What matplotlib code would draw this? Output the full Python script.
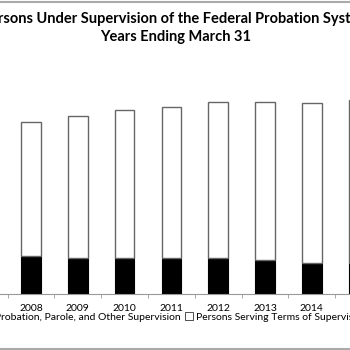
import matplotlib
matplotlib.use("Agg")
import matplotlib.pyplot as plt
from matplotlib.patches import Patch
from matplotlib.lines import Line2D
import numpy as np

# data
years = ["2008", "2009", "2010", "2011", "2012", "2013", "2014", "2015"]
probation = [26700, 25500, 25500, 25500, 25100, 23700, 22000, 21800]
supervised_release = [94300, 99700, 103700, 106000, 109900, 111300, 112300, 114400]

title = "Persons Under Supervision of the Federal Probation System\nYears Ending March 31"
lab_prob = "Persons Under Probation, Parole, and Other Supervision"
lab_tsr = "Persons Serving Terms of Supervised Release"

plt.rcParams["font.family"] = ["Lato", "DejaVu Sans"]

W = 350.0
step = 46.8  # px per year
fig = plt.figure(figsize=(3.5, 3.5), dpi=100)
# axes wider than the visible crop: baseline at y=294px
ax = fig.add_axes([0, (350 - 294) / 350, 1, (294 - 95) / 350])
x = np.arange(len(years))
ax.bar(x, probation, width=0.42, color="black", edgecolor="black", lw=0.8)
ax.bar(x, supervised_release, width=0.42, bottom=probation, color="white",
       edgecolor="#666666", lw=1.0)

for s in ["top", "right", "left"]:
    ax.spines[s].set_visible(False)
ax.spines["bottom"].set_color("#999999")
ax.set_yticks([])
ax.set_xticks(x)
ax.set_xticklabels(years, fontsize=7.5)
ax.tick_params(axis="x", length=0, pad=7)
ax.set_xticks(np.arange(-0.5, len(years), 1), minor=True)
ax.tick_params(axis="x", which="minor", length=3, color="#999999", direction="out")
# limits last, set_xticks would widen them
ax.set_xlim(-31 / step, (W - 31) / step)
ax.set_ylim(0, (294 - 95) * 702)

fig.text(176 / W, 1 - 28 / 350, title, ha="center", va="center",
         fontsize=10.5, fontweight="bold", linespacing=1.35)

handles = [Patch(facecolor="black", edgecolor="black", lw=0.6),
           Patch(facecolor="white", edgecolor="#333333", lw=0.6)]
fig.legend(handles, [lab_prob, lab_tsr], loc="center", ncol=2,
           bbox_to_anchor=(158 / W, 1 - 317 / 350), frameon=False,
           fontsize=7.5, handlelength=0.7, handleheight=0.7,
           handletextpad=0.3, columnspacing=0.5)

# chart area border (top and bottom edges show in the crop)
fig.add_artist(Line2D([0, 1], [1 - 1.5 / 350, 1 - 1.5 / 350], color="#aaaaaa", lw=1.5))
fig.add_artist(Line2D([0, 1], [1.5 / 350, 1.5 / 350], color="#aaaaaa", lw=1.5))

fig.savefig("out.png", dpi=100, facecolor="white")
